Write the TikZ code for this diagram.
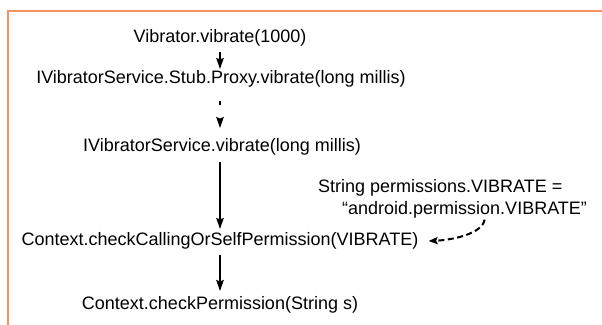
\documentclass[tikz,border=0pt]{standalone}
\usepackage{fontspec}
\setmainfont{Liberation Sans}
\usetikzlibrary{arrows.meta}
\definecolor{frameorange}{RGB}{247,147,90}
\tikzset{
  lbl/.style={font=\fontsize{18}{21}\selectfont, inner sep=2pt},
  flow/.style={line width=1.6pt, -{Stealth[length=11pt,width=7.5pt,inset=1.5pt]}},
  dotflow/.style={flow, dash pattern=on 0pt off 8pt on 3.5pt off 100pt},
  dashflow/.style={line width=2pt, dash pattern=on 6pt off 3.5pt, -{Stealth[length=9pt,width=7pt,inset=1.5pt]}},
  frame/.style={draw=frameorange, line width=2.2pt}
}
\begin{document}
\begin{tikzpicture}[x=1pt,y=-1pt]
\useasboundingbox (0,0) rectangle (602,324);
\draw[frame] (603,10.8) -- (7.9,10.8) -- (7.9,325);

\node[lbl] (a) at (220,38) {Vibrator.vibrate(1000)};
\node[lbl] (b) at (221,79) {IVibratorService.Stub.Proxy.vibrate(long millis)};
\node[lbl] (c) at (222,147) {IVibratorService.vibrate(long millis)};
\node[lbl, anchor=west] (d1) at (316,188) {String permissions.VIBRATE =};
\node[lbl, anchor=west] (d2) at (340,210) {“android.permission.VIBRATE”};
\node[lbl] (e) at (220,241) {Context.checkCallingOrSelfPermission(VIBRATE)};
\node[lbl] (f) at (220,305) {Context.checkPermission(String s)};

\coordinate (s1) at (220,52);
\coordinate (t1) at (220,69);
\coordinate (s2) at (220,93);
\coordinate (t2) at (220,128);
\coordinate (s3) at (220,162);
\coordinate (t3) at (220,229);
\coordinate (s4) at (220,255);
\coordinate (t4) at (220,291);
\coordinate (ds) at ([xshift=20pt,yshift=1pt]d2.south);
\coordinate (dt) at ([xshift=8pt]e.east);

\draw[flow] (s1) -- (t1);
\draw[dotflow] (s2) -- (t2);
\draw[flow] (s3) -- (t3);
\draw[flow] (s4) -- (t4);
\draw[dashflow] (ds) .. controls ++(-2,14) and ++(24,-1) .. (dt);
\end{tikzpicture}
\end{document}
